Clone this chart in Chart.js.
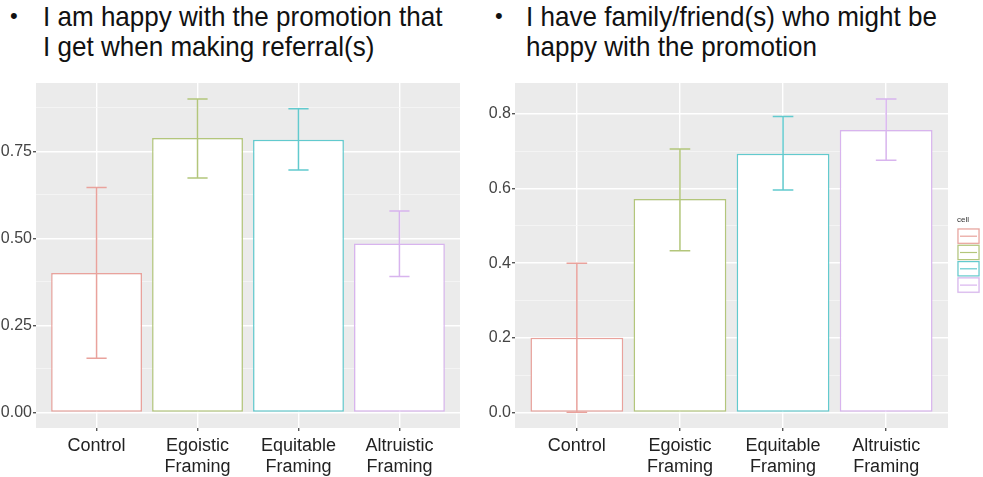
<!DOCTYPE html>
<html>
<head>
<meta charset="utf-8">
<script src="https://cdn.jsdelivr.net/npm/chart.js@4.4.1/dist/chart.umd.min.js"></script>
<style>
  html, body { margin:0; padding:0; background:#fff; width:983px; height:477px; overflow:hidden; }
  body { position:relative; font-family:"Liberation Sans", Arial, sans-serif; }
  .title { position:absolute; font-size:28px; line-height:30px; color:#111; white-space:nowrap; transform-origin:0 0; transform:scaleX(0.93); }
  .bullet { position:absolute; font-size:22px; line-height:30px; color:#111; }
  #c1wrap { position:absolute; left:0; top:70px; width:470px; height:407px; }
  #c2wrap { position:absolute; left:470px; top:70px; width:513px; height:407px; }
</style>
</head>
<body>
<div class="bullet" style="left:10px; top:1px;">•</div>
<div class="title" style="left:43px; top:2px;">I am happy with the promotion that<br>I get when making referral(s)</div>
<div class="bullet" style="left:495px; top:1px;">•</div>
<div class="title" style="left:526px; top:2px;">I have family/friend(s) who might be<br>happy with the promotion</div>
<div id="c1wrap"><canvas id="c1" width="470" height="407"></canvas></div>
<div id="c2wrap"><canvas id="c2" width="513" height="407"></canvas></div>
<script>
// ---- data ----
const categories = ['Control', 'Egoistic Framing', 'Equitable Framing', 'Altruistic Framing'];
const legendTitle = 'cell';
const happyMean  = [0.400, 0.788, 0.783, 0.485];
const happyLower = [0.155, 0.673, 0.696, 0.390];
const happyUpper = [0.646, 0.900, 0.872, 0.578];
const familyMean  = [0.200, 0.572, 0.693, 0.757];
const familyLower = [0.000, 0.433, 0.596, 0.676];
const familyUpper = [0.400, 0.706, 0.793, 0.840];
const happyTicks  = [0, 0.25, 0.5, 0.75];
const happyMinor  = [0.125, 0.375, 0.625, 0.875];
const familyTicks = [0, 0.2, 0.4, 0.6, 0.8];
const familyMinor = [0.1, 0.3, 0.5, 0.7];
const colors = ['#E9A29C', '#B3C67B', '#62CACE', '#D8B4EE'];

Chart.defaults.font.family = '"Liberation Sans", Arial, sans-serif';

const bgPlugin = {
  id: 'panelBg',
  beforeDraw(chart) {
    const {ctx, chartArea: a} = chart;
    ctx.save();
    ctx.fillStyle = '#EBEBEB';
    ctx.fillRect(a.left, a.top, a.right - a.left, a.bottom - a.top);
    ctx.restore();
  }
};

const errPlugin = {
  id: 'errbars',
  afterDatasetsDraw(chart, args, opts) {
    const {ctx} = chart;
    const xs = chart.scales.x, ys = chart.scales.y;
    ctx.save();
    ctx.lineWidth = 1.5;
    opts.lower.forEach((lo, i) => {
      const hi = opts.upper[i];
      const x = xs.getPixelForValue(i + 1);
      const half = xs.getPixelForValue(i + 1.1) - x;
      const y1 = ys.getPixelForValue(lo), y2 = ys.getPixelForValue(hi);
      ctx.strokeStyle = opts.colors[i];
      ctx.beginPath();
      ctx.moveTo(x, y1); ctx.lineTo(x, y2);
      ctx.moveTo(x - half, y1); ctx.lineTo(x + half, y1);
      ctx.moveTo(x - half, y2); ctx.lineTo(x + half, y2);
      ctx.stroke();
    });
    ctx.restore();
  }
};

const legendPlugin = {
  id: 'cellLegend',
  afterDraw(chart, args, opts) {
    if (!opts.show) return;
    const {ctx} = chart;
    ctx.save();
    ctx.fillStyle = '#333';
    ctx.font = '8px "Liberation Sans", Arial, sans-serif';
    ctx.textBaseline = 'alphabetic';
    ctx.fillText(legendTitle, opts.x, opts.y);
    opts.colors.forEach((c, i) => {
      const top = opts.y + 6 + i * 16.3;
      ctx.fillStyle = '#F2F2F2';
      ctx.fillRect(opts.x, top, 23, 16.3);
      ctx.fillStyle = '#fff';
      ctx.fillRect(opts.x + 1, top + 1, 21, 14.3);
      ctx.strokeStyle = c;
      ctx.lineWidth = 1.2;
      ctx.strokeRect(opts.x + 1, top + 1, 21, 14.3);
      ctx.beginPath();
      ctx.moveTo(opts.x + 3, top + 8.2); ctx.lineTo(opts.x + 20, top + 8.2);
      ctx.stroke();
    });
    ctx.restore();
  }
};

function makeChart(id, means, lower, upper, majors, minors, yMin, yMax, fmtDigits, yWidth, padRight, legend) {
  const allTicks = majors.concat(minors).filter(v => v >= yMin && v <= yMax).sort((a, b) => a - b);
  const isMajor = v => majors.some(m => Math.abs(m - v) < 1e-9);
  return new Chart(document.getElementById(id), {
    type: 'bar',
    data: {
      datasets: [{
        data: means.map((v, i) => ({x: i + 1, y: v})),
        backgroundColor: '#FFFFFF',
        borderColor: colors,
        borderWidth: 1.5,
        borderSkipped: false,
        barPercentage: 0.9,
        categoryPercentage: 1.0
      }]
    },
    options: {
      responsive: false,
      devicePixelRatio: 1,
      animation: false,
      layout: { padding: { top: 13, right: padRight, left: 0, bottom: 0 } },
      plugins: {
        legend: { display: false },
        tooltip: { enabled: false },
        errbars: { lower: lower, upper: upper, colors: colors },
        cellLegend: legend
      },
      scales: {
        x: {
          type: 'linear',
          offset: false,
          min: 0.4, max: 4.6,
          afterBuildTicks(scale) { scale.ticks = categories.map((c, i) => ({value: i + 1})); },
          afterFit(scale) { scale.height = 49; },
          border: { display: false },
          grid: { offset: false, color: '#FFFFFF', lineWidth: 1.4, drawTicks: true, tickLength: 3, tickColor: '#555' },
          ticks: {
            autoSkip: false, maxRotation: 0, padding: 4, color: '#222',
            font: { size: 18 },
            callback: (v) => { const c = categories[Math.round(v) - 1]; return c ? c.split(' ') : ''; }
          }
        },
        y: {
          type: 'linear',
          min: yMin, max: yMax,
          afterBuildTicks(scale) { scale.ticks = allTicks.map(v => ({value: v})); },
          afterFit(scale) { scale.width = yWidth; },
          border: { display: false },
          grid: {
            color: (ctx) => (ctx.tick && isMajor(ctx.tick.value)) ? '#FFFFFF' : '#F6F6F6',
            lineWidth: (ctx) => (ctx.tick && isMajor(ctx.tick.value)) ? 1.4 : 0.8,
            drawTicks: true, tickLength: 3,
            tickColor: (ctx) => (ctx.tick && isMajor(ctx.tick.value)) ? '#555' : 'rgba(0,0,0,0)'
          },
          ticks: {
            autoSkip: false, padding: 1, color: '#444',
            font: { size: 16 },
            callback: (v) => isMajor(v) ? v.toFixed(fmtDigits) : ''
          }
        }
      }
    },
    plugins: [bgPlugin, errPlugin, legendPlugin]
  });
}

makeChart('c1', happyMean, happyLower, happyUpper, happyTicks, happyMinor, -0.045, 0.946, 2, 36, 10, {show: false});
makeChart('c2', familyMean, familyLower, familyUpper, familyTicks, familyMinor, -0.042, 0.883, 1, 45, 35,
  {show: true, x: 487, y: 152, colors: colors});
</script>
</body>
</html>
